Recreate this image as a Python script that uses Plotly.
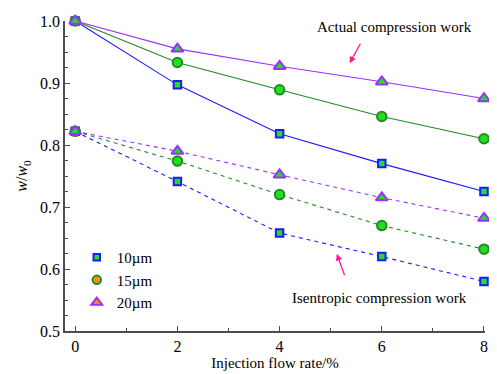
import plotly.graph_objects as go

x_rate = [0, 2, 4, 6, 8]
actual_10 = [1.0, 0.897, 0.818, 0.770, 0.725]
actual_15 = [1.0, 0.933, 0.889, 0.846, 0.810]
actual_20 = [1.0, 0.955, 0.927, 0.902, 0.875]
isen_10 = [0.822, 0.741, 0.658, 0.620, 0.580]
isen_15 = [0.822, 0.774, 0.720, 0.670, 0.632]
isen_20 = [0.822, 0.790, 0.752, 0.715, 0.682]
labels = ["10µm", "15µm", "20µm"]

blue = "#1a1aff"
green = "#228b22"
purple = "#9b30ff"
fill = "#22dd22"
orange = "#ff8c1a"
font = "Liberation Serif, DejaVu Serif, serif"

fig = go.Figure()

series = [
    (actual_10, isen_10, blue, "square", 7.5),
    (actual_15, isen_15, green, "circle", 9.5),
    (actual_20, isen_20, purple, "triangle-up", 10.5),
]
for act, isen, col, sym, sz in series:
    for ys, dash in ((act, "solid"), (isen, "4px,4px")):
        fig.add_trace(go.Scatter(
            x=x_rate, y=ys, mode="lines+markers", showlegend=False,
            line=dict(color=col, width=1.1, dash=dash),
            marker=dict(symbol=sym, size=sz, color=fill, line=dict(color=col, width=2)),
            cliponaxis=False,
        ))

legend_fills = [fill, orange, orange]
for (act, isen, col, sym, sz), lab, lf in zip(series, labels, legend_fills):
    fig.add_trace(go.Scatter(
        x=[None], y=[None], mode="markers", name=lab,
        marker=dict(symbol=sym, size=sz - 1, color=lf, line=dict(color=col, width=2)),
    ))

pink = "#ff1493"
fig.add_annotation(x=5.37, y=0.932, ax=5.64, ay=0.972, xref="x", yref="y", axref="x", ayref="y",
                   text=" ", showarrow=True, arrowhead=2, arrowsize=1, arrowwidth=1.3, arrowcolor=pink)
fig.add_annotation(x=5.12, y=0.624, ax=5.33, ay=0.577, xref="x", yref="y", axref="x", ayref="y",
                   text=" ", showarrow=True, arrowhead=2, arrowsize=1, arrowwidth=1.3, arrowcolor=pink)
fig.add_annotation(x=6.24, y=0.99, xref="x", yref="y", text="Actual compression work",
                   showarrow=False, font=dict(family=font, size=15, color="black"))
fig.add_annotation(x=5.96, y=0.553, xref="x", yref="y", text="Isentropic compression work",
                   showarrow=False, font=dict(family=font, size=15, color="black"))

axis_common = dict(
    showline=True, linecolor="#4d4d4d", linewidth=1.5, ticks="inside", tickcolor="#4d4d4d",
    ticklen=5, tickwidth=1.2, showgrid=False, zeroline=False, mirror=False, automargin=False,
    tickfont=dict(family=font, size=16, color="black"),
)
fig.update_xaxes(range=[-0.2, 8.02], tickvals=[0, 2, 4, 6, 8],
                 minor=dict(tickvals=[1, 3, 5, 7], ticks="inside", ticklen=3, tickcolor="#4d4d4d"),
                 title=dict(text="Injection flow rate/%", font=dict(family=font, size=15, color="black"), standoff=4),
                 **axis_common)
fig.update_yaxes(range=[0.5, 1.0], tickvals=[0.5, 0.6, 0.7, 0.8, 0.9, 1.0], ticktext=["0.5", "0.6", "0.7", "0.8", "0.9", "1.0"],
                 minor=dict(dtick=0.025, ticks="inside", ticklen=3, tickcolor="#4d4d4d"),
                 title=dict(text="<i>w</i>/<i>w</i><sub>0</sub>", font=dict(family=font, size=16, color="black"), standoff=8),
                 **axis_common)

# page body has an 8px default margin, so the figure is sized/offset to compensate
fig.update_layout(
    width=481, height=366, margin=dict(l=57, r=4, t=13, b=43),
    paper_bgcolor="white", plot_bgcolor="white",
    legend=dict(x=0.028, y=0.29, xanchor="left", yanchor="top", bgcolor="rgba(0,0,0,0)",
                font=dict(family=font, size=15, color="black"), tracegroupgap=0, itemwidth=30),
)

fig.write_html("out.html")
